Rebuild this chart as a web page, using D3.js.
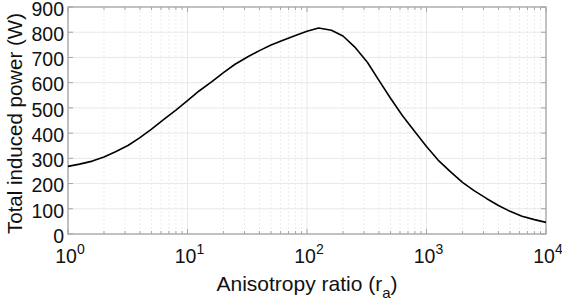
<!DOCTYPE html>
<html>
<head>
<meta charset="utf-8">
<script src="https://cdn.jsdelivr.net/npm/d3@7"></script>
<style>
  body { margin: 0; background: #fff; }
  svg { display: block; font-family: "Liberation Sans", Arial, sans-serif; }
</style>
</head>
<body>
<svg id="chart"></svg>
<script>
'use strict';

let WIDTH = 562;
let HEIGHT = 307;
let MARGIN = { top: 7, right: 16, bottom: 73, left: 68 };

// anisotropy ratio samples
let ratio = [1, 1.25, 1.6, 2, 2.5, 3.2, 4, 5, 6.3, 8,
    10, 12.5, 16, 20, 25, 32, 40, 50, 63, 80,
    100, 125, 160, 200, 250, 320, 400, 500, 630, 800,
    1000, 1250, 1600, 2000, 2500, 3200, 4000, 5000, 6300, 8000, 10000];
let power = [268, 277, 289, 305, 326, 352, 382, 416, 453, 491,
    529, 567, 604, 640, 673, 703, 727, 749, 768, 787,
    804, 817, 808, 785, 742, 681, 609, 538, 469, 405,
    347, 293, 245, 205, 172, 140, 113, 90, 70, 57, 46];

let xDecades = [0, 1, 2, 3, 4];
let yTicks = [0, 100, 200, 300, 400, 500, 600, 700, 800, 900];

let COLOR = {
    LINE: '#000000',
    AXIS: '#a6a6a6',
    GRID: '#e8e8e8',
    MINOR: '#ececec',
    TEXT: '#111111'
};

let w = WIDTH - MARGIN.left - MARGIN.right;
let h = HEIGHT - MARGIN.top - MARGIN.bottom;

let svg = d3.select('#chart').attr('width', WIDTH).attr('height', HEIGHT);
let g = svg.append('g').attr('transform', 'translate(' + MARGIN.left + ',' + MARGIN.top + ')');

let x = d3.scaleLog().domain([1, 1e4]).range([0, w]);
let y = d3.scaleLinear().domain([0, 900]).range([h, 0]);

// minor positions 2..9 in each decade
let minor = [];
xDecades.slice(0, -1).forEach(function(d) {
    for (let k = 2; k <= 9; ++k) minor.push(k * Math.pow(10, d));
});

// grid
g.selectAll('.minor').data(minor).enter().append('line')
    .attr('x1', function(d) { return x(d); }).attr('x2', function(d) { return x(d); })
    .attr('y1', 0).attr('y2', h)
    .attr('stroke', COLOR.MINOR).attr('stroke-dasharray', '2,2');
g.selectAll('.vgrid').data(xDecades).enter().append('line')
    .attr('x1', function(d) { return x(Math.pow(10, d)); })
    .attr('x2', function(d) { return x(Math.pow(10, d)); })
    .attr('y1', 0).attr('y2', h)
    .attr('stroke', COLOR.GRID);
g.selectAll('.hgrid').data(yTicks).enter().append('line')
    .attr('x1', 0).attr('x2', w)
    .attr('y1', function(d) { return y(d); }).attr('y2', function(d) { return y(d); })
    .attr('stroke', COLOR.GRID);

// inward ticks on all four sides
let xt = xDecades.map(function(d) { return Math.pow(10, d); });
function tickLines(vals, len, vertical, at, dir) {
    vals.forEach(function(v) {
        let p = vertical ? x(v) : y(v);
        g.append('line')
            .attr('x1', vertical ? p : at).attr('x2', vertical ? p : at + dir * len)
            .attr('y1', vertical ? at : p).attr('y2', vertical ? at + dir * len : p)
            .attr('stroke', COLOR.AXIS);
    });
}
tickLines(xt, 5, true, h, -1);
tickLines(xt, 5, true, 0, 1);
tickLines(minor, 3, true, h, -1);
tickLines(minor, 3, true, 0, 1);
tickLines(yTicks, 5, false, 0, 1);
tickLines(yTicks, 5, false, w, -1);

// box
g.append('rect').attr('width', w).attr('height', h)
    .attr('fill', 'none').attr('stroke', COLOR.AXIS).attr('stroke-width', 1.3);

// curve
let line = d3.line()
    .x(function(d, i) { return x(ratio[i]); })
    .y(function(d) { return y(d); });
g.append('path').datum(power)
    .attr('d', line)
    .attr('fill', 'none')
    .attr('stroke', COLOR.LINE)
    .attr('stroke-width', 1.6)
    .attr('stroke-linejoin', 'round');

// y tick labels
g.selectAll('.ylab').data(yTicks).enter().append('text')
    .attr('x', -4).attr('y', function(d) { return y(d); })
    .attr('dy', '0.45em')
    .attr('text-anchor', 'end')
    .attr('font-size', 19.5)
    .attr('fill', COLOR.TEXT)
    .text(function(d) { return d; });

// x tick labels as 10^n
let xl = g.selectAll('.xlab').data(xDecades).enter().append('text')
    .attr('x', function(d) { return x(Math.pow(10, d)) + 2; })
    .attr('y', h + 29)
    .attr('text-anchor', 'middle')
    .attr('font-size', 19.5)
    .attr('fill', COLOR.TEXT);
xl.append('tspan').text('10');
xl.append('tspan').attr('dy', -9).attr('font-size', 14).text(function(d) { return d; });

// axis titles
let xt2 = g.append('text')
    .attr('x', w / 2).attr('y', h + 57)
    .attr('text-anchor', 'middle')
    .attr('font-size', 21)
    .attr('fill', COLOR.TEXT);
xt2.append('tspan').text('Anisotropy ratio (r');
xt2.append('tspan').attr('dy', 7).attr('font-size', 15).text('a');
xt2.append('tspan').attr('dy', -7).text(')');

g.append('text')
    .attr('transform', 'translate(' + (-46) + ',' + (h / 2 + 3) + ') rotate(-90)')
    .attr('text-anchor', 'middle')
    .attr('font-size', 20.5)
    .attr('fill', COLOR.TEXT)
    .text('Total induced power (W)');
</script>
</body>
</html>
